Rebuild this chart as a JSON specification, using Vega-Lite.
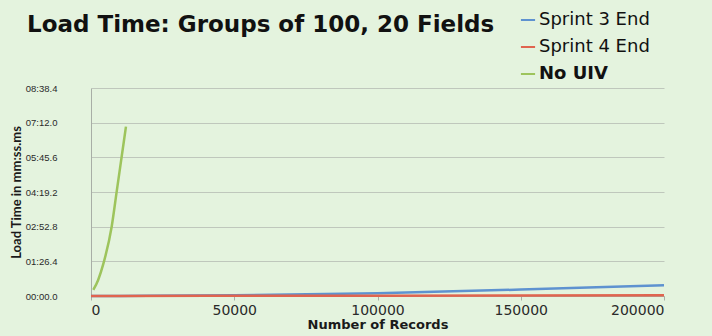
{
  "$schema": "https://vega.github.io/schema/vega-lite/v6.json",
  "width": 573,
  "height": 208,
  "autosize": {"type": "none"},
  "padding": {"left": 91, "top": 88, "right": 48, "bottom": 40},
  "background": "#e4f3de",
  "config": {
    "font": "DejaVu Sans",
    "view": {"stroke": null}
  },
  "title": {
    "text": "Load Time: Groups of 100, 20 Fields",
    "anchor": "start",
    "frame": "group",
    "baseline": "alphabetic",
    "dx": -64,
    "dy": 48,
    "fontSize": 23,
    "fontWeight": "bold",
    "color": "#111111",
    "font": "DejaVu Sans"
  },
  "data": {
    "values": [
      {"records": 0, "seconds": 0.0, "series": "Sprint 3 End"},
      {"records": 10000, "seconds": 0.3, "series": "Sprint 3 End"},
      {"records": 50000, "seconds": 1.8, "series": "Sprint 3 End"},
      {"records": 100000, "seconds": 7.0, "series": "Sprint 3 End"},
      {"records": 150000, "seconds": 16.0, "series": "Sprint 3 End"},
      {"records": 200000, "seconds": 27.0, "series": "Sprint 3 End"},
      {"records": 0, "seconds": 0.0, "series": "Sprint 4 End"},
      {"records": 10000, "seconds": 0.1, "series": "Sprint 4 End"},
      {"records": 50000, "seconds": 0.4, "series": "Sprint 4 End"},
      {"records": 100000, "seconds": 0.8, "series": "Sprint 4 End"},
      {"records": 150000, "seconds": 1.3, "series": "Sprint 4 End"},
      {"records": 200000, "seconds": 2.0, "series": "Sprint 4 End"},
      {"records": 800, "seconds": 15, "series": "No UIV"},
      {"records": 2500, "seconds": 40, "series": "No UIV"},
      {"records": 4300, "seconds": 80, "series": "No UIV"},
      {"records": 7200, "seconds": 172, "series": "No UIV"},
      {"records": 9000, "seconds": 262, "series": "No UIV"},
      {"records": 10700, "seconds": 347, "series": "No UIV"},
      {"records": 12200, "seconds": 422, "series": "No UIV"}
    ]
  },
  "mark": {"type": "line", "interpolate": "monotone", "strokeWidth": 2.5},
  "encoding": {
    "x": {
      "field": "records",
      "type": "quantitative",
      "scale": {"domain": [0, 200000], "nice": false},
      "axis": {
        "values": [0, 50000, 100000, 150000, 200000],
        "format": "d",
        "grid": false,
        "domainColor": "#a8aea6",
        "tickColor": "#a8aea6",
        "tickSize": 4,
        "labelFont": "DejaVu Sans",
        "labelFontSize": 14,
        "labelColor": "#2a2a2a",
        "labelPadding": 3,
        "title": "Number of Records",
        "titleFont": "DejaVu Sans",
        "titleFontSize": 13,
        "titleFontWeight": "bold",
        "titleColor": "#1a1a1a",
        "titlePadding": 1
      }
    },
    "y": {
      "field": "seconds",
      "type": "quantitative",
      "scale": {"domain": [0, 518.4], "nice": false},
      "axis": {
        "values": [0, 86.4, 172.8, 259.2, 345.6, 432, 518.4],
        "labelExpr": "(floor(datum.value/60) < 10 ? '0' : '') + floor(datum.value/60) + ':' + format(datum.value % 60, '04.1f')",
        "grid": true,
        "gridColor": "#bfc7bc",
        "domainColor": "#a8aea6",
        "ticks": false,
        "labelPadding": 34,
        "labelFont": "Liberation Sans",
        "labelFontSize": 9.5,
        "labelColor": "#2a2a2a",
        "title": "Load Time in mm:ss.ms",
        "titleFont": "Lato",
        "titleFontSize": 13,
        "titleFontWeight": "bold",
        "titleColor": "#1a1a1a",
        "titleX": -75,
        "titleY": 104,
        "titleAngle": -90,
        "titleAlign": "center",
        "titleBaseline": "middle"
      }
    },
    "color": {
      "field": "series",
      "type": "nominal",
      "scale": {
        "domain": ["Sprint 3 End", "Sprint 4 End", "No UIV"],
        "range": ["#5e92d0", "#e0644f", "#9dc45c"]
      },
      "legend": {
        "title": null,
        "orient": "none",
        "legendX": 428,
        "legendY": -77,
        "symbolType": "stroke",
        "symbolSize": 200,
        "symbolStrokeWidth": 2,
        "labelFont": "DejaVu Sans",
        "labelFontSize": 18,
        "labelColor": "#111111",
        "labelOffset": 2,
        "rowPadding": 9,
        "encode": {
          "labels": {
            "update": {
              "fontWeight": {"signal": "datum.label == 'No UIV' ? 'bold' : 'normal'"}
            }
          }
        }
      }
    }
  }
}
